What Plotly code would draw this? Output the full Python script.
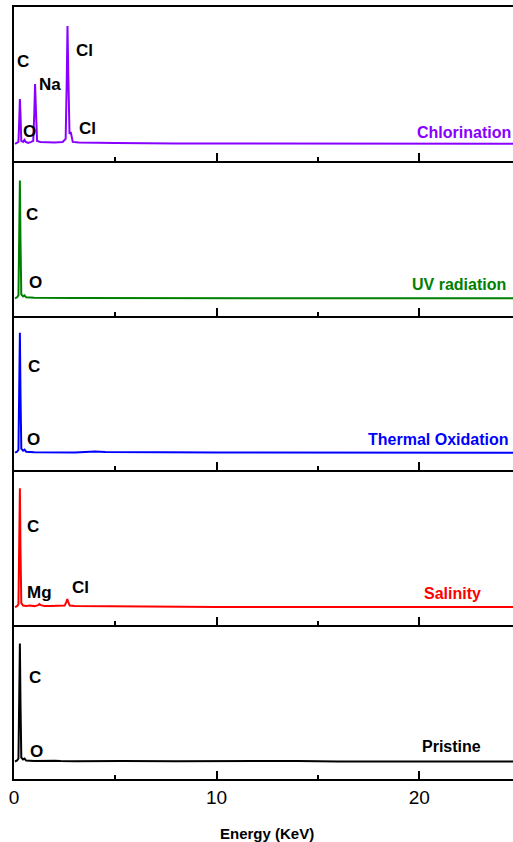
import plotly.graph_objects as go
from plotly.subplots import make_subplots

# ---- data (energy in keV, counts in arbitrary units, baseline = 0) ----
chl_e = [0.05, 0.15, 0.22, 0.26, 0.29, 0.32, 0.36, 0.45, 0.52, 0.58, 0.7, 0.85, 0.95, 1.0, 1.04, 1.08, 1.14, 1.3,
         1.6, 2.0, 2.4, 2.55, 2.6, 2.64, 2.68, 2.74, 2.8, 2.84, 2.9, 3.2, 4.0, 5.0, 8.0, 12.0, 20.0, 25.0]
chl_c = [0, 1, 2, 25, 45, 30, 3, 2, 4, 2, 1, 2, 3, 30, 60, 35, 3, 2,
         1.5, 1.5, 2, 5, 60, 118, 70, 10, 12, 6, 2, 1.5, 1, 0.8, 0.5, 0.3, 0.2, 0.2]

uv_e = [0.05, 0.15, 0.22, 0.26, 0.29, 0.32, 0.36, 0.45, 0.52, 0.6, 1.0, 3.0, 10.0, 25.0]
uv_c = [0, 1, 3, 60, 118, 60, 4, 2, 3, 1, 0.5, 0.3, 0.1, 0]

th_e = [0.05, 0.15, 0.22, 0.26, 0.29, 0.32, 0.36, 0.45, 0.52, 0.6, 1.0, 3.0, 3.7, 4.0, 4.5, 6.0, 10.0, 25.0]
th_c = [0, 1, 3, 60, 120, 60, 4, 2, 3, 1, 0.5, 0.3, 0.8, 1.2, 0.6, 0.3, 0.1, 0]

sal_e = [0.05, 0.15, 0.22, 0.26, 0.29, 0.32, 0.36, 0.45, 0.6, 0.8, 1.0, 1.2, 1.25, 1.32, 1.5, 1.8, 2.2, 2.5,
         2.58, 2.63, 2.68, 2.75, 3.0, 4.0, 5.5, 7.0, 7.5, 10.0, 25.0]
sal_c = [0, 1, 3, 60, 119, 60, 4, 1.5, 1, 1.5, 1, 2, 3, 2, 1.2, 1, 1.2, 1.5,
         5, 8, 5, 1.5, 1, 0.8, 0.8, 0.8, 0.3, 0.1, 0]

pri_e = [0.05, 0.15, 0.22, 0.26, 0.29, 0.32, 0.36, 0.45, 0.52, 0.6, 1.0, 2.0, 2.3, 3.0, 5.0, 5.3, 8.0, 13.0, 14.0, 16.0, 25.0]
pri_c = [0, 1, 3, 60, 118, 60, 4, 2, 3, 1, 0.5, 0.8, 0.4, 0.3, 0.8, 0.4, 0.3, 0.7, 0.5, 0.1, 0]

series_names = ["Chlorination", "UV radiation", "Thermal Oxidation", "Salinity", "Pristine"]
series_e = [chl_e, uv_e, th_e, sal_e, pri_e]
series_c = [chl_c, uv_c, th_c, sal_c, pri_c]
series_colors = ["#8800ff", "#008000", "#0000ff", "#ff0000", "#000000"]

x_ticks = [0, 10, 20]
x_title = "Energy (KeV)"

# element labels: (panel row, text, pixel x, pixel y)
element_labels = [
    (1, "C", 23, 61), (1, "O", 29, 131), (1, "Na", 50, 84), (1, "Cl", 84, 51), (1, "Cl", 87, 128),
    (2, "C", 32, 215), (2, "O", 35, 282),
    (3, "C", 34, 366), (3, "O", 33, 439),
    (4, "C", 33, 526), (4, "Mg", 39, 592), (4, "Cl", 80, 587),
    (5, "C", 35, 677), (5, "O", 36, 751),
]
# series label positions: (pixel x, pixel y, anchor)
series_label_pos = [(513, 132, "right"), (508, 285, "right"), (510, 439, "right"),
                    (452, 593, "center"), (451, 746, "center")]

# ---- layout geometry ----
W, H = 513, 842
ML, MR, MT, MB = 14, 0, 7, 63
PW, PH = W - ML - MR, H - MT - MB


def px_to_paper(px, py):
    return (px - ML) / PW, (H - MB - py) / PH


FONT = "Arial, Liberation Sans, sans-serif"

fig = make_subplots(rows=5, cols=1, shared_xaxes=True, vertical_spacing=0)

for i in range(5):
    fig.add_trace(go.Scatter(x=series_e[i], y=series_c[i], mode="lines",
                             line=dict(color=series_colors[i], width=2),
                             showlegend=False, hoverinfo="skip"), row=i + 1, col=1)

for i in range(1, 6):
    fig.update_xaxes(range=[0, PW / 20.26], showline=True, linecolor="black", linewidth=2,
                     mirror=(i == 1), ticks="inside", ticklen=8, tickwidth=2, tickcolor="black",
                     tickvals=x_ticks, showgrid=False, zeroline=False,
                     minor=dict(ticks="inside", ticklen=4, tickwidth=2, tickcolor="black",
                                dtick=5, tick0=0, showgrid=False),
                     showticklabels=(i == 5),
                     tickfont=dict(family=FONT, size=19, color="black"),
                     row=i, col=1)
    fig.update_yaxes(range=[-17.5, 137], showline=True, linecolor="black", linewidth=2,
                     mirror=False, ticks="", showticklabels=False, showgrid=False,
                     zeroline=False, row=i, col=1)

annotations = []
for row, txt, px, py in element_labels:
    xp, yp = px_to_paper(px, py)
    annotations.append(dict(x=xp, y=yp, xref="paper", yref="paper", text="<b>%s</b>" % txt,
                            showarrow=False, xanchor="center", yanchor="middle",
                            font=dict(family=FONT, size=17, color="black")))
for name, col, (px, py, anc) in zip(series_names, series_colors, series_label_pos):
    xp, yp = px_to_paper(px, py)
    annotations.append(dict(x=xp, y=yp, xref="paper", yref="paper", text="<b>%s</b>" % name,
                            showarrow=False, xanchor=anc, yanchor="middle",
                            font=dict(family=FONT, size=16, color=col)))
xp, yp = px_to_paper(267, 833)
annotations.append(dict(x=xp, y=yp, xref="paper", yref="paper", text="<b>%s</b>" % x_title,
                        showarrow=False, xanchor="center", yanchor="middle",
                        font=dict(family=FONT, size=15, color="black")))

fig.update_layout(width=W, height=H, margin=dict(l=ML, r=MR, t=MT, b=MB),
                  paper_bgcolor="white", plot_bgcolor="white",
                  annotations=annotations, font=dict(family=FONT))

fig.write_html("out.html")
